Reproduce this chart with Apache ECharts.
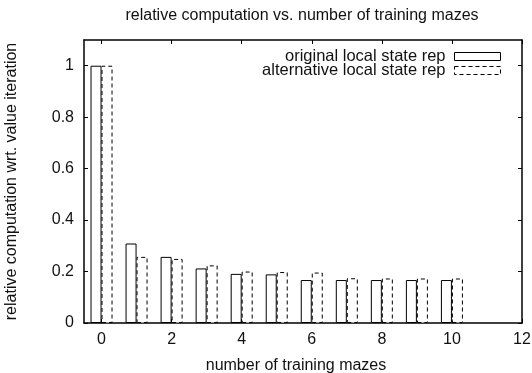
<!DOCTYPE html>
<html>
<head>
<meta charset="utf-8">
<script src="https://cdn.jsdelivr.net/npm/echarts@6/dist/echarts.min.js"></script>
<style>
html,body{margin:0;padding:0;background:#fff;}
#c{width:532px;height:373px;}
</style>
</head>
<body>
<div id="c"></div>
<script>
var mazes = [0, 1, 2, 3, 4, 5, 6, 7, 8, 9, 10];
var originalRep = [1.0, 0.309, 0.257, 0.212, 0.191, 0.189, 0.167, 0.167, 0.167, 0.167, 0.167];
var alternativeRep = [1.0, 0.257, 0.249, 0.224, 0.200, 0.198, 0.196, 0.174, 0.173, 0.173, 0.173];
var xTicks = [0, 2, 4, 6, 8, 10, 12];
var yTicks = [0, 0.2, 0.4, 0.6, 0.8, 1];

var FONT = 'Liberation Sans';
var FS = 16;
var chart = echarts.init(document.getElementById('c'));
function pairs(vals) { return mazes.map(function (m, i) { return [m, vals[i]]; }); }

var axisLineStyle = { color: '#000', width: 1.5 };
chart.setOption({
  animation: false,
  backgroundColor: '#fff',
  title: {
    text: 'relative computation vs. number of training mazes',
    left: 297, top: 3, textAlign: 'center',
    textStyle: { fontFamily: FONT, fontSize: FS, fontWeight: 'normal', color: '#111' }
  },
  legend: {
    orient: 'vertical', align: 'right', right: 26, top: 43,
    itemWidth: 46, itemHeight: 8, itemGap: -3,
    textStyle: { fontFamily: FONT, fontSize: 16.5, color: '#111', padding: [0, 4, 0, 0] },
    data: [
      { name: 'original local state rep', icon: 'rect',
        itemStyle: { color: '#fff', borderColor: '#000', borderWidth: 1 } },
      { name: 'alternative local state rep', icon: 'rect',
        itemStyle: { color: '#fff', borderColor: '#000', borderWidth: 1, borderType: [4, 3] } }
    ]
  },
  grid: { left: 84, right: 10, top: 40, bottom: 50, outerBoundsMode: 'none', containLabel: false },
  xAxis: [{
    type: 'value', min: -0.5, max: 12,
    name: 'number of training mazes', nameLocation: 'middle', nameGap: 35,
    nameTextStyle: { fontFamily: FONT, fontSize: FS, color: '#111', padding: [0, 14, 0, 0] },
    axisLine: { onZero: false, lineStyle: axisLineStyle },
    axisTick: { inside: true, length: 4, customValues: xTicks, lineStyle: { color: '#000' } },
    axisLabel: { customValues: xTicks, margin: 9, fontFamily: FONT, fontSize: FS, color: '#111' },
    splitLine: { show: false }
  }, {
    type: 'value', min: -0.5, max: 12, position: 'top',
    axisLine: { onZero: false, lineStyle: axisLineStyle },
    axisTick: { inside: true, length: 4, customValues: xTicks, lineStyle: { color: '#000' } },
    axisLabel: { show: false },
    splitLine: { show: false }
  }],
  yAxis: [{
    type: 'value', min: 0, max: 1.1,
    name: 'relative computation wrt. value iteration', nameLocation: 'middle', nameGap: 64,
    nameTextStyle: { fontFamily: FONT, fontSize: FS, color: '#111' },
    axisLine: { show: true, onZero: false, lineStyle: axisLineStyle },
    axisTick: { inside: true, length: 4, customValues: yTicks, lineStyle: { color: '#000' } },
    axisLabel: { customValues: yTicks, margin: 10, fontFamily: FONT, fontSize: FS, color: '#111' },
    splitLine: { show: false }
  }, {
    type: 'value', min: 0, max: 1.1, position: 'right',
    axisLine: { show: true, onZero: false, lineStyle: axisLineStyle },
    axisTick: { show: true, inside: true, length: 4, customValues: yTicks, lineStyle: { color: '#000' } },
    axisLabel: { show: false },
    splitLine: { show: false }
  }],
  series: [{
    name: 'original local state rep', type: 'bar',
    data: pairs(originalRep), barWidth: 11, barGap: '0%',
    itemStyle: { color: '#fff', borderColor: '#000', borderWidth: 1 }
  }, {
    name: 'alternative local state rep', type: 'bar',
    data: pairs(alternativeRep), barWidth: 11, barGap: '0%',
    itemStyle: { color: '#fff', borderColor: '#000', borderWidth: 1, borderType: [4, 3] }
  }]
});
</script>
</body>
</html>
